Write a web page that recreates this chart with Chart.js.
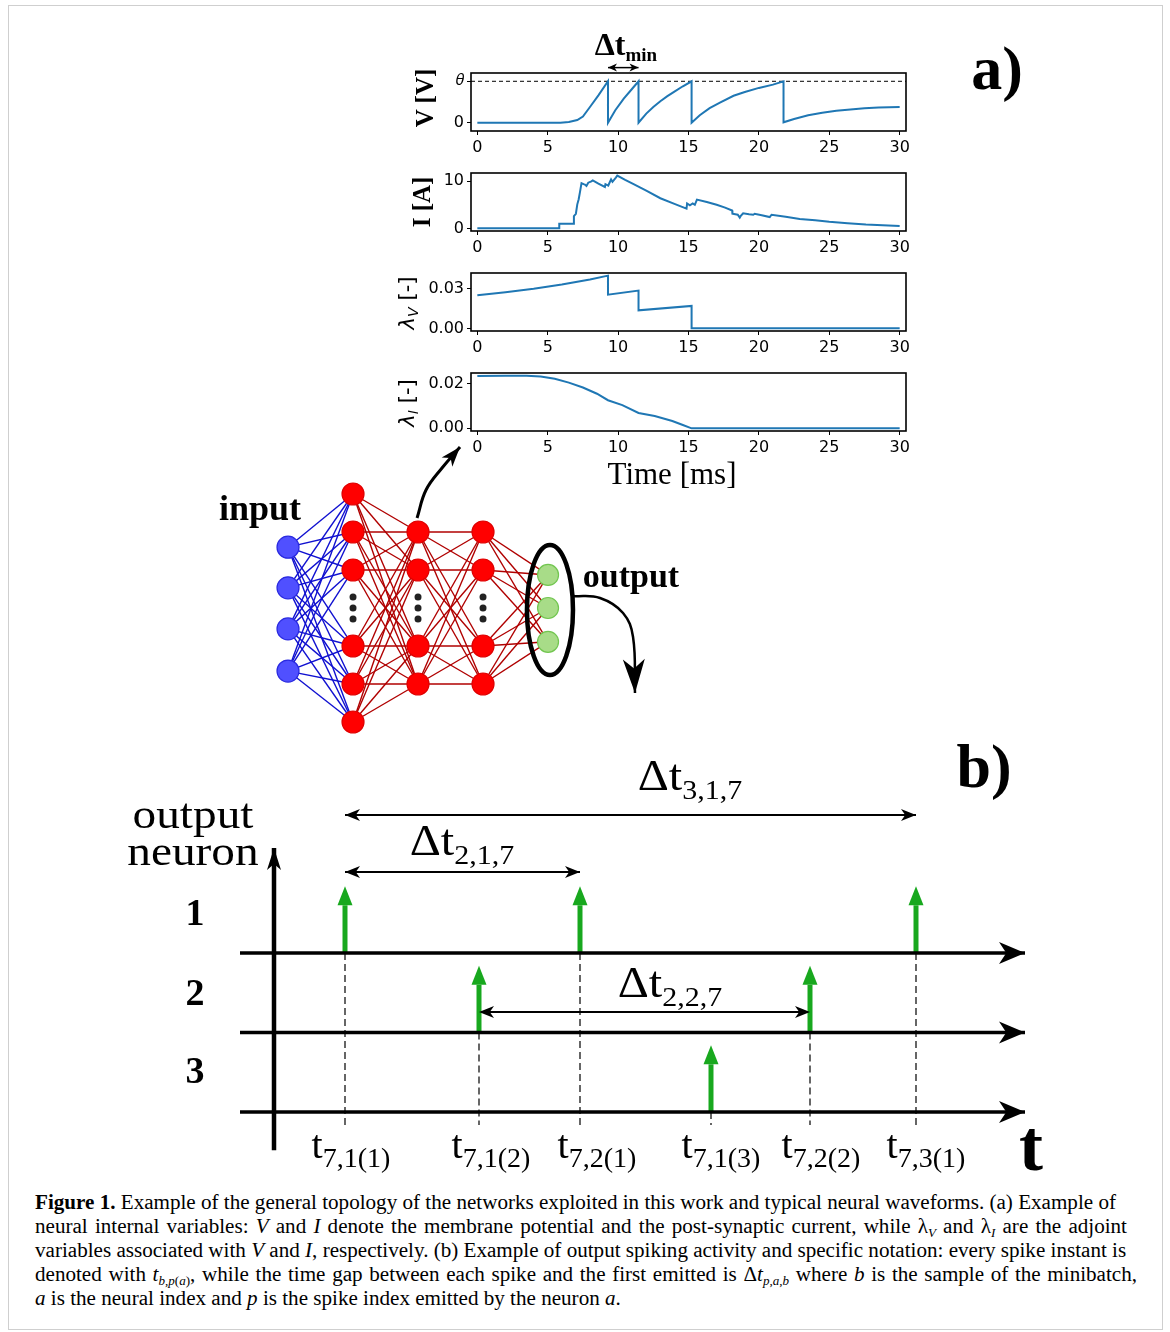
<!DOCTYPE html>
<html>
<head>
<meta charset="utf-8">
<script src="https://cdn.jsdelivr.net/npm/chart.js@4.4.0/dist/chart.umd.min.js"></script>
<style>
body { margin:0; width:1170px; height:1332px; background:#fff; position:relative; overflow:hidden; font-family:'Liberation Serif', serif; color:#000; }
.frame { position:absolute; left:8px; top:5px; width:1155px; height:1325px; border:1px solid #cfcfcf; box-sizing:border-box; }
canvas { position:absolute; }
.lbl { position:absolute; white-space:nowrap; line-height:1; transform:translate(-50%,-50%); }
.wide { transform:translate(-50%,-50%) scaleX(1.1); }
.rot { position:absolute; white-space:nowrap; line-height:1; transform:translate(-50%,-50%) rotate(-90deg); }
sub { font-size:0.68em; vertical-align:-0.32em; line-height:0; }
.cap { position:absolute; left:35px; font-size:21.1px; line-height:24px; height:24px; text-align:justify; text-align-last:justify; white-space:nowrap; }
.cap sub { font-size:0.62em; }
</style>
</head>
<body>
<div class="frame"></div>

<canvas id="vChart" width="518" height="108" style="left:400px;top:55px"></canvas>
<canvas id="iChart" width="518" height="108" style="left:400px;top:155px"></canvas>
<canvas id="lvChart" width="518" height="108" style="left:400px;top:255px"></canvas>
<canvas id="liChart" width="518" height="108" style="left:400px;top:355px"></canvas>
<canvas id="netChart" width="500" height="310" style="left:200px;top:430px"></canvas>
<canvas id="spikeChart" width="940" height="440" style="left:120px;top:740px"></canvas>

<!-- panel a -->
<div class="lbl" style="left:626px;top:44px;font-size:32px;font-weight:bold">Δt<sub style="font-size:19px">min</sub></div>
<div class="lbl" style="left:997px;top:68px;font-size:62px;font-weight:bold">a)</div>
<div class="rot" style="left:424px;top:98px;font-size:25px;font-weight:bold">V [V]</div>
<div class="rot" style="left:421px;top:202px;font-size:25px;font-weight:bold">I [A]</div>
<div class="rot" style="left:407px;top:303px;font-size:21px;font-family:'DejaVu Sans'"><i>λ</i><sub><i>V</i></sub> [-]</div>
<div class="rot" style="left:407px;top:403px;font-size:21px;font-family:'DejaVu Sans'"><i>λ</i><sub><i>I</i></sub> [-]</div>
<div class="lbl" style="left:672px;top:473px;font-size:31px">Time [ms]</div>

<div class="lbl" style="left:260px;top:508px;font-size:36px;font-weight:bold">input</div>
<div class="lbl" style="left:631px;top:576px;font-size:34px;font-weight:bold">output</div>

<!-- panel b -->
<div class="lbl" style="left:984px;top:766px;font-size:62px;font-weight:bold">b)</div>
<div class="lbl wide" style="left:193px;top:832px;font-size:43px;line-height:37px;text-align:center">output<br>neuron</div>
<div class="lbl" style="left:195px;top:912px;font-size:38px;font-weight:bold">1</div>
<div class="lbl" style="left:195px;top:992px;font-size:38px;font-weight:bold">2</div>
<div class="lbl" style="left:195px;top:1070px;font-size:38px;font-weight:bold">3</div>
<div class="lbl wide" style="left:690px;top:776px;font-size:44px">Δt<sub style="font-size:0.62em">3,1,7</sub></div>
<div class="lbl wide" style="left:462px;top:841px;font-size:44px">Δt<sub style="font-size:0.62em">2,1,7</sub></div>
<div class="lbl wide" style="left:670px;top:983px;font-size:44px">Δt<sub style="font-size:0.62em">2,2,7</sub></div>
<div class="lbl" style="left:351px;top:1145px;font-size:40px">t<sub style="font-size:0.7em">7,1(1)</sub></div>
<div class="lbl" style="left:491px;top:1145px;font-size:40px">t<sub style="font-size:0.7em">7,1(2)</sub></div>
<div class="lbl" style="left:597px;top:1145px;font-size:40px">t<sub style="font-size:0.7em">7,2(1)</sub></div>
<div class="lbl" style="left:721px;top:1145px;font-size:40px">t<sub style="font-size:0.7em">7,1(3)</sub></div>
<div class="lbl" style="left:821px;top:1145px;font-size:40px">t<sub style="font-size:0.7em">7,2(2)</sub></div>
<div class="lbl" style="left:926px;top:1145px;font-size:40px">t<sub style="font-size:0.7em">7,3(1)</sub></div>
<div class="lbl" style="left:1031px;top:1146px;font-size:72px;font-weight:bold">t</div>

<!-- caption -->
<div class="cap" style="top:1190px;width:1080px"><b>Figure 1.</b> Example of the general topology of the networks exploited in this work and typical neural waveforms. (a) Example of</div>
<div class="cap" style="top:1214px;width:1092px">neural internal variables: <i>V</i> and <i>I</i> denote the membrane potential and the post-synaptic current, while λ<sub><i>V</i></sub> and λ<sub><i>I</i></sub> are the adjoint</div>
<div class="cap" style="top:1238px;width:1090px">variables associated with <i>V</i> and <i>I</i>, respectively. (b) Example of output spiking activity and specific notation: every spike instant is</div>
<div class="cap" style="top:1262px;width:1102px">denoted with <i>t</i><sub><i>b</i>,<i>p</i>(<i>a</i>)</sub>, while the time gap between each spike and the first emitted is Δ<i>t</i><sub><i>p</i>,<i>a</i>,<i>b</i></sub> where <i>b</i> is the sample of the minibatch,</div>
<div class="cap" style="top:1286px;text-align-last:left"><i>a</i> is the neural index and <i>p</i> is the spike index emitted by the neuron <i>a</i>.</div>

<script>
// ---- panel a data (time in ms) ----
const timeTicks = [0, 5, 10, 15, 20, 25, 30]
const spikeTimes = [9.28, 11.45, 15.22, 21.75]
const dtMinLevel = 1.33

const voltageTrace = [[0,0],[5.9,0],[6.5,0.02],[7.1,0.065],[7.5,0.15],[8.0,0.38],[8.6,0.66],[9.28,1.0],[9.28,0],
  [9.8,0.3],[10.4,0.58],[11.0,0.82],[11.45,1.0],[11.45,0],[12.0,0.22],[12.5,0.38],[13.0,0.52],[13.5,0.64],[14.0,0.75],[14.6,0.88],[15.22,1.0],[15.22,0],
  [15.8,0.18],[16.5,0.35],[17.2,0.48],[18.2,0.65],[19.0,0.74],[20.0,0.84],[21.0,0.92],[21.75,1.0],[21.75,0.01],
  [22.5,0.09],[23.5,0.18],[24.5,0.24],[25.5,0.29],[26.5,0.32],[27.5,0.35],[28.5,0.365],[30,0.38]]

const currentTrace = [[0,0],[5.82,0],[5.82,1.0],[6.86,1.0],[6.86,2.6],[7.0,3.1],[7.1,5.1],[7.2,6.2],[7.29,7.7],[7.4,9.6],[7.55,9.4],[7.64,9.3],
  [7.75,9.0],[7.88,9.7],[8.1,10.0],[8.2,10.2],[8.6,9.5],[9.06,8.8],[9.1,9.4],[9.3,9.1],[9.5,10.4],[9.6,9.9],[9.84,10.8],[9.94,11.2],
  [10.5,10.3],[11.1,9.4],[12.0,8.0],[13.0,6.4],[14.0,5.2],[14.86,4.2],[14.9,5.3],[15.1,4.9],[15.3,5.3],[15.45,5.0],[15.6,6.1],
  [16.3,5.6],[17.0,5.0],[17.6,4.4],[18.1,3.8],[18.12,3.1],[18.5,2.9],[18.64,2.3],[18.7,2.6],[18.88,3.2],[19.3,3.0],[19.6,2.9],[19.7,3.1],
  [20.2,2.8],[20.77,2.4],[20.9,2.9],[21.9,2.45],[22.9,2.0],[24.0,1.7],[25.0,1.4],[26.3,1.1],[27.6,0.8],[28.8,0.65],[30,0.5]]

const adjointVTrace = [[0,0.0251],[2,0.0274],[4,0.0301],[6,0.0333],[8,0.0372],[9.28,0.0401],[9.28,0.0256],[11.45,0.0287],
  [11.45,0.0137],[15.22,0.0171],[15.22,0],[30,0]]

const adjointITrace = [[0,0.0234],[2,0.0236],[3.5,0.0236],[4.5,0.0232],[5.5,0.0222],[6.5,0.0205],[7.5,0.0183],[8.5,0.0155],
  [9.28,0.0126],[10.3,0.0104],[11.45,0.0069],[12.6,0.0055],[13.85,0.0033],[14.6,0.0015],[15.22,0],[30,0]]

// ---- network data (layer index, neuron slot) ----
const inputSlots = [-0.6, 0.47, 1.55, 2.66]
const hidden1Slots = [-2, -1, 0, 2, 3, 4]
const hidden2Slots = [-1, 0, 2, 3]
const hidden3Slots = [-1, 0, 2, 3]
const outputSlots = [0.13, 1.0, 1.89]
const ellipsisSlots = [0.71, 1.0, 1.29]
const toPlotArrow = [[1.985,-1.368],[2.123,-2.105],[2.369,-2.684],[2.646,-3.237]]
const fromOutputArrow = [[4.385,0.684],[4.8,0.737],[5.154,1.132],[5.308,1.763],[5.338,3.237]]

// ---- spike raster data (arbitrary time units, row = output neuron) ----
const spikesRow1 = [7.1, 30.6, 64.2]
const spikesRow2 = [20.5, 53.6]
const spikesRow3 = [43.7]
const gapArrows = [[7.1, 64.2, -0.736], [7.1, 30.6, -0.02], [20.5, 53.6, 1.742]]

Chart.defaults.font.family = "'DejaVu Sans', sans-serif"
Chart.defaults.font.size = 16
Chart.defaults.color = '#000'
Chart.defaults.animation = false
Chart.defaults.responsive = false
Chart.defaults.devicePixelRatio = 1
Chart.defaults.events = []
Chart.defaults.plugins.legend.display = false
Chart.defaults.plugins.tooltip.enabled = false

// box around plot area
const frame = {
    id: 'frame',
    afterDraw(chart, args, opts) {
        if (!opts.on) return
        const { ctx, chartArea: a } = chart
        ctx.save()
        ctx.strokeStyle = '#000'
        ctx.lineWidth = 1.6
        ctx.strokeRect(a.left, a.top, a.right - a.left, a.bottom - a.top)
        ctx.restore()
    }
}

function drawHead(ctx, x, y, ang, len, wid, style, color) {
    ctx.save()
    ctx.translate(x, y)
    ctx.rotate(ang)
    ctx.fillStyle = color
    ctx.beginPath()
    ctx.moveTo(0, 0)
    ctx.lineTo(-len, -wid / 2)
    if (style === 'stealth') ctx.lineTo(-len * 0.72, 0)
    ctx.lineTo(-len, wid / 2)
    ctx.closePath()
    ctx.fill()
    ctx.restore()
}

// arrow heads at the ends of line datasets
const arrows = {
    id: 'arrows',
    afterDatasetsDraw(chart) {
        const ctx = chart.ctx
        chart.data.datasets.forEach((ds, i) => {
            const a = ds.arrow
            if (!a) return
            const pts = chart.getDatasetMeta(i).data
            const n = pts.length
            const col = a.color || ds.borderColor
            const style = a.style || 'stealth'
            if (a.end) {
                const p = pts[n - 1], q = pts[n - 2]
                const ang = Math.atan2(p.y - q.y, p.x - q.x)
                let x = p.x, y = p.y
                if (a.ahead) { x += Math.cos(ang) * a.len; y += Math.sin(ang) * a.len }
                drawHead(ctx, x, y, ang, a.len, a.wid, style, col)
            }
            if (a.start) {
                const p = pts[0], q = pts[1]
                drawHead(ctx, p.x, p.y, Math.atan2(p.y - q.y, p.x - q.x), a.len, a.wid, style, col)
            }
        })
    }
}

// ellipse around the output layer
const ring = {
    id: 'ring',
    afterDatasetsDraw(chart, args, o) {
        if (o.cx === undefined) return
        const xs = chart.scales.x, ys = chart.scales.y, ctx = chart.ctx
        const cx = xs.getPixelForValue(o.cx), cy = ys.getPixelForValue(o.cy)
        const rx = Math.abs(xs.getPixelForValue(o.cx + o.rx) - cx)
        const ry = Math.abs(ys.getPixelForValue(o.cy + o.ry) - cy)
        ctx.save()
        ctx.lineWidth = 4.5
        ctx.strokeStyle = '#000'
        ctx.beginPath()
        ctx.ellipse(cx, cy, rx, ry, 0, 0, Math.PI * 2)
        ctx.stroke()
        ctx.restore()
    }
}

Chart.register(frame, arrows, ring)

const pts = list => list.map(p => ({ x: p[0], y: p[1] }))

function makeTrace(id, trace, yMin, yMax, yTicks, yLabels, extra) {
    const datasets = [{
        data: pts(trace),
        borderColor: '#1f77b4',
        borderWidth: 2,
        pointRadius: 0,
        tension: 0
    }].concat(extra || [])
    const tickGrid = { drawOnChartArea: false, drawTicks: true, tickLength: 4, color: '#000', lineWidth: 1 }
    return new Chart(document.getElementById(id), {
        type: 'line',
        data: { datasets },
        options: {
            layout: { padding: { top: 18, right: 12, left: 0, bottom: 0 }, autoPadding: false },
            plugins: { frame: { on: true } },
            scales: {
                x: {
                    type: 'linear', min: -0.45, max: 30.45,
                    afterBuildTicks: s => { s.ticks = timeTicks.map(v => ({ value: v })) },
                    afterFit: s => { s.height = 32 },
                    grid: tickGrid, border: { display: false },
                    ticks: { padding: 3, maxRotation: 0 }
                },
                y: {
                    type: 'linear', min: yMin, max: yMax,
                    afterBuildTicks: s => { s.ticks = yTicks.map(v => ({ value: v })) },
                    afterFit: s => { s.width = 71 },
                    grid: tickGrid, border: { display: false },
                    ticks: { padding: 3, callback: (v, i) => yLabels[i] }
                }
            }
        }
    })
}

makeTrace('vChart', voltageTrace, -0.2, 1.2, [0, 1], ['0', '𝜃'], [
    {
        data: [{ x: -0.45, y: 1 }, { x: 30.45, y: 1 }],
        borderColor: '#000', borderWidth: 1, borderDash: [4, 3], pointRadius: 0
    },
    {
        data: [{ x: spikeTimes[0], y: dtMinLevel }, { x: spikeTimes[1], y: dtMinLevel }],
        borderColor: '#000', borderWidth: 1.5, pointRadius: 0, clip: false,
        arrow: { start: true, end: true, len: 9, wid: 8 }
    }
])
makeTrace('iChart', currentTrace, -0.56, 11.76, [0, 10], ['0', '10'])
makeTrace('lvChart', adjointVTrace, -0.002, 0.0421, [0, 0.03], ['0.00', '0.03'])
makeTrace('liChart', adjointITrace, -0.0012, 0.0248, [0, 0.02], ['0.00', '0.02'])

// ---- network ----
const layers = [inputSlots, hidden1Slots, hidden2Slots, hidden3Slots, outputSlots]
const nodeFill = ['#5050ff', '#ff0000', '#ff0000', '#ff0000', '#a8dc88']
const nodeEdge = ['#2a2ae0', '#e00000', '#e00000', '#e00000', '#72c650']
const netSets = []
layers.forEach((slots, l) => {
    netSets.push({
        data: slots.map(s => ({ x: l, y: s })),
        showLine: false, pointRadius: l === 4 ? 10.5 : 11,
        pointBackgroundColor: nodeFill[l], pointBorderColor: nodeEdge[l], pointBorderWidth: 1.2,
        order: 1
    })
})
for (let l = 1; l <= 3; l++) {
    netSets.push({
        data: ellipsisSlots.map(s => ({ x: l, y: s })),
        showLine: false, pointRadius: 3.5, pointBackgroundColor: '#222', pointBorderWidth: 0, order: 1
    })
}
for (let l = 0; l < 4; l++) {
    layers[l].forEach(a => {
        layers[l + 1].forEach(b => {
            netSets.push({
                data: [{ x: l, y: a }, { x: l + 1, y: b }],
                borderColor: l === 0 ? '#1010d0' : '#b00000', borderWidth: 1.4, pointRadius: 0, order: 3
            })
        })
    })
}
netSets.push({
    data: pts(toPlotArrow), borderColor: '#000', borderWidth: 3, pointRadius: 0, tension: 0.4, order: 2,
    arrow: { end: true, len: 20, wid: 14 }
})
netSets.push({
    data: pts(fromOutputArrow), borderColor: '#000', borderWidth: 2.5, pointRadius: 0, tension: 0.4, order: 2,
    arrow: { end: true, len: 34, wid: 22 }
})

new Chart(document.getElementById('netChart'), {
    type: 'line',
    data: { datasets: netSets },
    options: {
        layout: { padding: 0, autoPadding: false },
        plugins: { ring: { cx: 4.03, cy: 1.053, rx: 0.354, ry: 1.71 } },
        scales: {
            x: { type: 'linear', display: false, min: -1.354, max: 6.338 },
            y: { type: 'linear', display: false, min: -3.684, max: 4.474, reverse: true }
        }
    }
})

// ---- spike raster ----
const rows = [spikesRow1, spikesRow2, spikesRow3]
const spikeSets = []
rows.forEach((times, r) => {
    const base = r + 1
    spikeSets.push({
        data: [{ x: -3.4, y: base }, { x: 75.1, y: base }],
        borderColor: '#000', borderWidth: 3.3, pointRadius: 0,
        arrow: { end: true, len: 26, wid: 22 }
    })
    times.forEach(t => {
        spikeSets.push({
            data: [{ x: t, y: base }, { x: t, y: 3.164 }],
            borderColor: '#000', borderWidth: 1.2, borderDash: [7, 4], pointRadius: 0
        })
        spikeSets.push({
            data: [{ x: t, y: base }, { x: t, y: base - 0.6 }],
            borderColor: '#18a81e', borderWidth: 5, pointRadius: 0,
            arrow: { end: true, ahead: true, len: 19, wid: 15, style: 'triangle' }
        })
    })
})
spikeSets.push({
    data: [{ x: 0, y: 3.48 }, { x: 0, y: -0.32 }],
    borderColor: '#000', borderWidth: 4.5, pointRadius: 0,
    arrow: { end: true, len: 22, wid: 14 }
})
gapArrows.forEach(g => {
    spikeSets.push({
        data: [{ x: g[0], y: g[2] }, { x: g[1], y: g[2] }],
        borderColor: '#000', borderWidth: 2, pointRadius: 0,
        arrow: { start: true, end: true, len: 15, wid: 12 }
    })
})

new Chart(document.getElementById('spikeChart'), {
    type: 'line',
    data: { datasets: spikeSets },
    options: {
        layout: { padding: 0, autoPadding: false },
        scales: {
            x: { type: 'linear', display: false, min: -15.4, max: 78.6 },
            y: { type: 'linear', display: false, min: -1.679, max: 3.855, reverse: true }
        }
    }
})
</script>
</body>
</html>
